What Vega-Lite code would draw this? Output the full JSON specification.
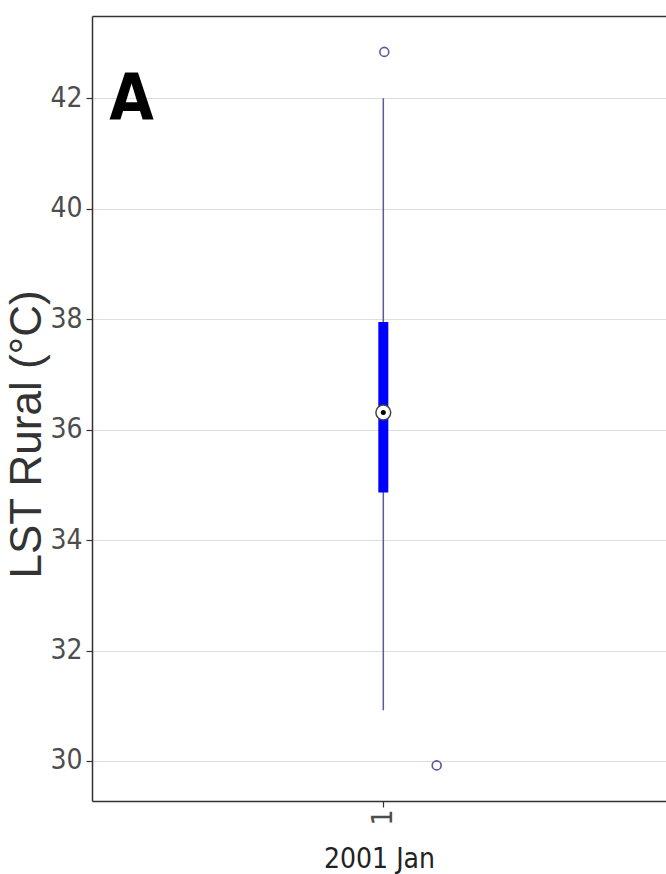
{
  "$schema": "https://vega.github.io/schema/vega-lite/v6.json",
  "width": 574,
  "height": 785,
  "autosize": {"type": "none"},
  "padding": {"left": 92, "top": 16, "right": 0, "bottom": 73},
  "background": "white",
  "config": {
    "view": {"stroke": null},
    "font": "Liberation Sans Narrow, DejaVu Sans Condensed, Roboto Condensed, Liberation Sans, sans-serif",
    "axis": {"domainColor": "#333333", "domainWidth": 1.5, "tickColor": "#333333", "tickSize": 6, "tickWidth": 1.2, "labelColor": "#4d4d4d", "labelFont": "Liberation Sans Narrow, DejaVu Sans Condensed, Roboto Condensed, Liberation Sans, sans-serif", "labelFontSize": 28, "titleFont": "Liberation Sans Narrow, DejaVu Sans Condensed, Roboto Condensed, Liberation Sans, sans-serif", "titleFontWeight": "normal", "titleColor": "#222222"}
  },
  "datasets": {
    "box": [{"month": 1, "lower": 30.92, "q1": 34.86, "median": 36.31, "q3": 37.95, "upper": 42.0}],
    "outliers": [{"month": 1.0017, "lst": 42.84}, {"month": 1.0916, "lst": 29.92}],
    "panel": [{"label": "A", "month": 0.568, "lst": 41.6}]
  },
  "layer": [
    {
      "data": {"name": "box"},
      "mark": {"type": "rule", "color": "#5a5a9e", "strokeWidth": 1.5},
      "encoding": {
        "x": {"field": "month", "type": "quantitative", "scale": {"domain": [0.5, 1.4852], "nice": false, "zero": false},
              "axis": {"orient": "bottom", "values": [1], "format": "d", "labelAngle": -90, "labelPadding": 2, "grid": false, "title": "2001 Jan", "titleFontSize": 28, "titlePadding": 20}},
        "y": {"field": "lower", "type": "quantitative", "scale": {"domain": [29.275, 43.49], "nice": false, "zero": false},
              "title": "LST Rural (°C)",
              "axis": {"values": [30, 32, 34, 36, 38, 40, 42], "grid": true, "gridColor": "#dedede", "gridWidth": 1, "labelPadding": 4,
                       "titleFont": "Liberation Sans", "titleFontSize": 44, "titleColor": "#333333", "titleAngle": -90, "titleBaseline": "alphabetic", "titleX": -52, "titleY": 418}},
        "y2": {"field": "upper"}
      }
    },
    {
      "data": {"name": "box"},
      "mark": {"type": "rule", "color": "#0000ff", "strokeWidth": 10, "strokeCap": "butt"},
      "encoding": {
        "x": {"field": "month", "type": "quantitative", "scale": {"domain": [0.5, 1.4852], "nice": false, "zero": false},
              "axis": {"orient": "top", "labels": false, "ticks": false, "grid": false, "title": null, "domain": true}},
        "y": {"field": "q1", "type": "quantitative", "scale": {"domain": [29.275, 43.49], "nice": false, "zero": false}, "title": "LST Rural (°C)"},
        "y2": {"field": "q3"}
      }
    },
    {
      "data": {"name": "box"},
      "mark": {"type": "point", "shape": "circle", "filled": true, "fill": "white", "stroke": "#444444", "strokeWidth": 1.5, "size": 220, "opacity": 1},
      "encoding": {
        "x": {"field": "month", "type": "quantitative", "scale": {"domain": [0.5, 1.4852], "nice": false, "zero": false}, "axis": null},
        "y": {"field": "median", "type": "quantitative", "scale": {"domain": [29.275, 43.49], "nice": false, "zero": false}, "title": "LST Rural (°C)"}
      }
    },
    {
      "data": {"name": "box"},
      "mark": {"type": "point", "shape": "circle", "filled": true, "color": "#000000", "size": 25, "opacity": 1},
      "encoding": {
        "x": {"field": "month", "type": "quantitative", "scale": {"domain": [0.5, 1.4852], "nice": false, "zero": false}, "axis": null},
        "y": {"field": "median", "type": "quantitative", "scale": {"domain": [29.275, 43.49], "nice": false, "zero": false}, "title": "LST Rural (°C)"}
      }
    },
    {
      "data": {"name": "outliers"},
      "mark": {"type": "point", "shape": "circle", "filled": false, "stroke": "#5959a6", "strokeWidth": 1.6, "size": 80, "opacity": 1},
      "encoding": {
        "x": {"field": "month", "type": "quantitative", "scale": {"domain": [0.5, 1.4852], "nice": false, "zero": false}, "axis": null},
        "y": {"field": "lst", "type": "quantitative", "scale": {"domain": [29.275, 43.49], "nice": false, "zero": false}, "title": "LST Rural (°C)"}
      }
    },
    {
      "data": {"name": "panel"},
      "mark": {"type": "text", "font": "Liberation Sans Narrow, DejaVu Sans Condensed, Roboto Condensed, Liberation Sans, sans-serif", "fontWeight": "bold", "fontSize": 64, "align": "center", "baseline": "alphabetic", "color": "#000000"},
      "encoding": {
        "x": {"field": "month", "type": "quantitative", "scale": {"domain": [0.5, 1.4852], "nice": false, "zero": false}, "axis": null},
        "y": {"field": "lst", "type": "quantitative", "scale": {"domain": [29.275, 43.49], "nice": false, "zero": false}, "title": "LST Rural (°C)"},
        "text": {"field": "label"}
      }
    }
  ],
  "resolve": {"axis": {"x": "independent"}}
}
